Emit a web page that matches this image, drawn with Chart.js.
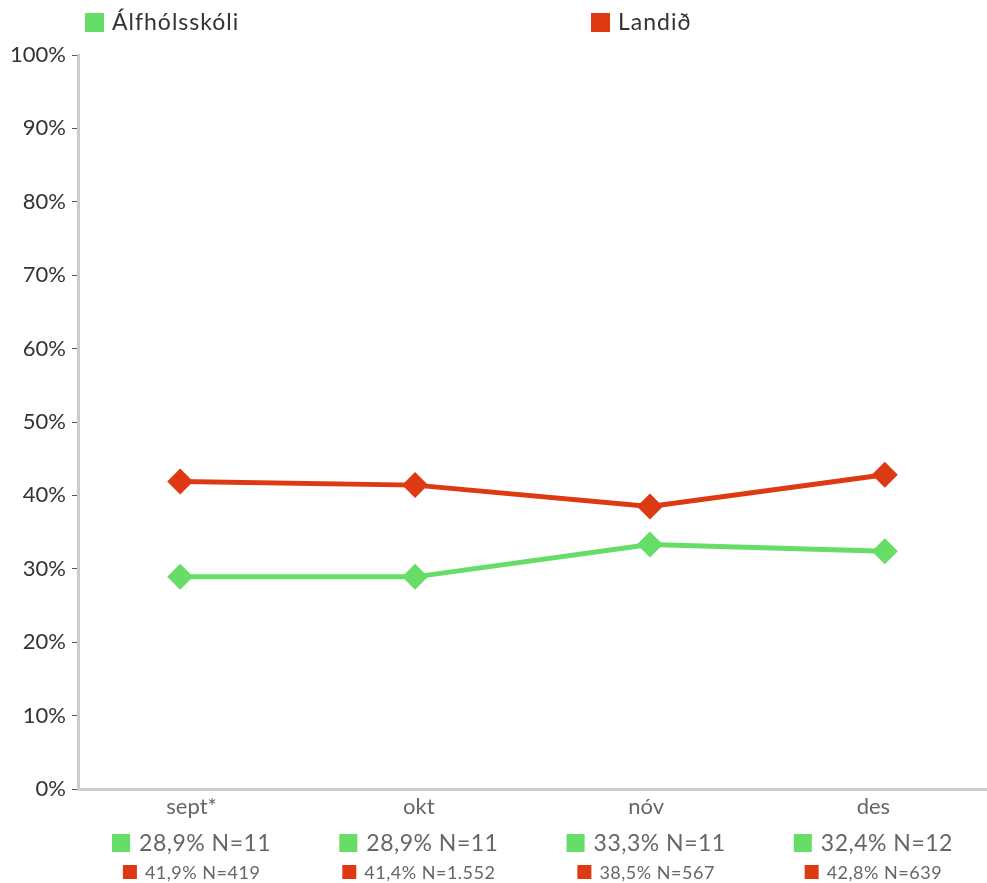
<!DOCTYPE html>
<html>
<head>
<meta charset="utf-8">
<script src="https://cdn.jsdelivr.net/npm/chart.js@4/dist/chart.umd.min.js"></script>
<style>
  body { margin: 0; background: #fff; }
</style>
</head>
<body>
<canvas id="chLine" width="987" height="883"></canvas>
<script>
"use strict";

const months = ['sept*', 'okt', 'nóv', 'des'];
const schoolValues = [28.9, 28.9, 33.3, 32.4];
const nationalValues = [41.9, 41.4, 38.5, 42.8];
const schoolN = ['11', '11', '11', '12'];
const nationalN = ['419', '1.552', '567', '639'];
const seriesNames = ['Álfhólsskóli', 'Landið'];

const colors = ['#66dd66', '#dd3a14'];
const fontFamily = "Lato, 'Noto Sans', sans-serif";

function pct(v){
	return v.toFixed(1).replace('.', ',') + '%';
}

// legend at the top, two items spread over the width
const topLegend = {
	id: 'topLegend',
	afterDraw(chart){
		const ctx = chart.ctx;
		const xs = [85, 591];
		ctx.save();
		ctx.font = '23px ' + fontFamily;
		ctx.letterSpacing = '1px';
		ctx.textBaseline = 'middle';
		seriesNames.forEach((name, i) => {
			ctx.fillStyle = colors[i];
			ctx.fillRect(xs[i], 13, 19, 19);
			ctx.fillStyle = '#333';
			ctx.fillText(name, xs[i] + 27, 23);
		});
		ctx.restore();
	}
};

// value + N lines below each month label
const valueRows = {
	id: 'valueRows',
	afterDraw(chart){
		const ctx = chart.ctx;
		const scale = chart.scales.x;
		const rows = [
			{vals: schoolValues, ns: schoolN, color: colors[0], size: 23, sq: 18, gap: 9, y: 843},
			{vals: nationalValues, ns: nationalN, color: colors[1], size: 18, sq: 14, gap: 8, y: 872}
		];
		ctx.save();
		ctx.textBaseline = 'middle';
		ctx.letterSpacing = '0.5px';
		months.forEach((m, i) => {
			const cx = scale.getPixelForTick(i);
			rows.forEach(r => {
				const txt = pct(r.vals[i]) + ' N=' + r.ns[i];
				ctx.font = r.size + 'px ' + fontFamily;
				const w = ctx.measureText(txt).width;
				const start = cx - (r.sq + r.gap + w) / 2;
				ctx.fillStyle = r.color;
				ctx.fillRect(start, r.y - r.sq / 2, r.sq, r.sq);
				ctx.fillStyle = '#666';
				ctx.fillText(txt, start + r.sq + r.gap, r.y + 1);
			});
		});
		ctx.restore();
	}
};

function makeSeries(values){
	return values.map((v, i) => ({x: i, y: v}));
}

const lineData = {
	labels: months,
	datasets: [
		{
			label: seriesNames[0],
			data: makeSeries(schoolValues),
			xAxisID: 'xp',
			borderColor: colors[0],
			backgroundColor: colors[0],
			borderWidth: 5,
			pointStyle: 'rectRot',
			pointRadius: 13,
			pointHoverRadius: 13,
			pointBorderWidth: 0,
			tension: 0
		},
		{
			label: seriesNames[1],
			data: makeSeries(nationalValues),
			xAxisID: 'xp',
			borderColor: colors[1],
			backgroundColor: colors[1],
			borderWidth: 5,
			pointStyle: 'rectRot',
			pointRadius: 13,
			pointHoverRadius: 13,
			pointBorderWidth: 0,
			tension: 0
		}
	]
};

const lineOptions = {
	responsive: false,
	animation: false,
	layout: {autoPadding: false, padding: {top: 55, bottom: 64, left: 0, right: 0}},
	plugins: {legend: {display: false}, tooltip: {enabled: false}},
	scales: {
		x: {
			type: 'category',
			offset: true,
			grid: {drawOnChartArea: false, drawTicks: false},
			border: {color: '#cccccc', width: 3},
			ticks: {color: '#666', padding: 5, font: {family: fontFamily, size: 22}},
			afterFit: s => { s.height = 30; s.paddingLeft = 0; s.paddingRight = 0; }
		},
		xp: {
			type: 'linear',
			display: false,
			min: -0.435,
			max: 3.435
		},
		y: {
			min: 0,
			max: 100,
			ticks: {
				stepSize: 10,
				color: '#333',
				padding: 6,
				font: {family: fontFamily, size: 22},
				callback: v => v + '%'
			},
			grid: {drawOnChartArea: false, drawTicks: true, tickLength: 6, color: '#555', lineWidth: 1},
			border: {color: '#cccccc', width: 3},
			afterFit: s => { s.width = 78; }
		}
	}
};

const chLine = document.getElementById('chLine');
if (chLine) {
	new Chart(chLine, {
		type: 'line',
		data: lineData,
		options: lineOptions,
		plugins: [topLegend, valueRows]
	});
}
</script>
</body>
</html>
